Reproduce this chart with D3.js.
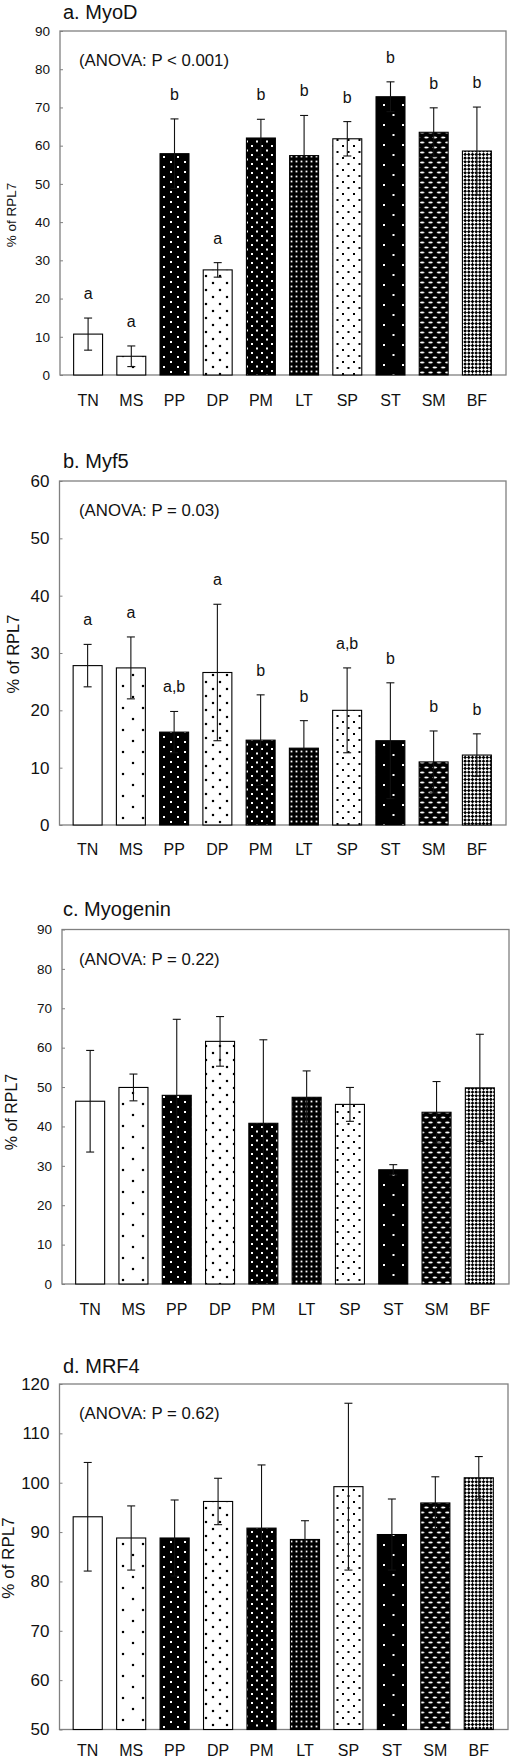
<!DOCTYPE html>
<html><head><meta charset="utf-8">
<script src="https://cdn.jsdelivr.net/npm/d3@7"></script>
<style>
body{margin:0;background:#fff}
svg{display:block}
text{font-family:"Liberation Sans",Arial,Helvetica,sans-serif;fill:#111}
</style>
</head><body>
<svg id="chart" width="510" height="1761"></svg>
<script>
// ---------------- data ----------------
const categories = ["TN","MS","PP","DP","PM","LT","SP","ST","SM","BF"];
const panelTitles = ["a. MyoD","b. Myf5","c. Myogenin","d. MRF4"];
const anovaLabels = ["(ANOVA: P < 0.001)","(ANOVA: P = 0.03)","(ANOVA: P = 0.22)","(ANOVA: P = 0.62)"];
const yAxisLabel = "% of RPL7";

const myodMeans   = [10.7, 4.9, 57.9, 27.5, 62.0, 57.4, 61.8, 72.8, 63.5, 58.6];
const myodErrors  = [ 4.2, 2.7,  9.1,  1.9,  4.9, 10.5,  4.5,  3.9,  6.4, 11.5];
const myodLetters = ["a","a","b","a","b","b","b","b","b","b"];

const myf5Means   = [27.8, 27.4, 16.2, 26.6, 14.8, 13.4, 20.0, 14.7, 11.0, 12.2];
const myf5Errors  = [ 3.7,  5.4,  3.6, 11.9,  7.9,  4.8,  7.4, 10.1,  5.4,  3.7];
const myf5Letters = ["a","a","a,b","a","b","b","a,b","b","b","b"];

const myogeninMeans  = [46.4, 49.9, 47.9, 61.6, 40.8, 47.4, 45.6, 29.0, 43.6, 49.8];
const myogeninErrors = [12.9,  3.4, 19.3,  6.3, 21.2,  6.7,  4.3,  1.3,  7.8, 13.6];

const mrf4Means  = [93.1, 88.8, 88.8, 96.2, 90.8, 88.5, 99.2, 89.5, 95.9, 101.0];
const mrf4Errors = [11.0,  6.5,  7.7,  4.7, 12.8,  3.8, 16.9,  7.2,  5.3,   4.3];

const myodTicks     = [0,10,20,30,40,50,60,70,80,90];
const myf5Ticks     = [0,10,20,30,40,50,60];
const myogeninTicks = [0,10,20,30,40,50,60,70,80,90];
const mrf4Ticks     = [50,60,70,80,90,100,110,120];

// ---------------- layout / style ----------------
const svg = d3.select("#chart");
const defs = svg.append("defs");

function dotPattern(id, bg, fg, w, h, pts, r){
  const p = defs.append("pattern").attr("id", id).attr("patternUnits","userSpaceOnUse")
    .attr("width", w).attr("height", h);
  p.append("rect").attr("width", w).attr("height", h).attr("fill", bg);
  pts.forEach(([cx,cy]) => p.append("rect").attr("x", cx - r).attr("y", cy - r)
    .attr("width", 2*r).attr("height", 2*r).attr("fill", fg));
  return p;
}
dotPattern("pMS","#fff","#000",20,22,[[3,4],[13,15]],1.1);
dotPattern("pDP","#fff","#000",14,14,[[3,3],[10,10]],1.1);
dotPattern("pSP","#fff","#000",11,12,[[2,2],[7.5,8]],1.0);
dotPattern("pPP","#000","#fff",14,10,[[3,2],[10,7]],1.0);
dotPattern("pPM","#000","#fff",10,9,[[2,2],[7,6.5]],1.0);
dotPattern("pLT","#000","#fff",5,5,[[1.5,1.5]],0.9);
dotPattern("pST","#000","#fff",19,20,[[4,5],[13.5,15]],1.0);
{
  const p = defs.append("pattern").attr("id","pSM").attr("patternUnits","userSpaceOnUse")
    .attr("width",8.4).attr("height",10);
  p.append("rect").attr("width",8.4).attr("height",10).attr("fill","#000");
  [[2.2,2.5],[6.4,7.5]].forEach(([cx,cy]) => p.append("ellipse").attr("cx",cx).attr("cy",cy)
    .attr("rx",2.2).attr("ry",0.95).attr("fill","#fff"));
  p.append("ellipse").attr("cx",-2).attr("cy",7.5).attr("rx",2.2).attr("ry",0.95).attr("fill","#fff");
}
{
  const c = 2.6;
  const p = defs.append("pattern").attr("id","pBF").attr("patternUnits","userSpaceOnUse")
    .attr("width",2*c).attr("height",2*c).attr("patternTransform","rotate(45)");
  p.append("rect").attr("width",2*c).attr("height",2*c).attr("fill","#000");
  p.append("rect").attr("width",c).attr("height",c).attr("fill","#fff");
  p.append("rect").attr("x",c).attr("y",c).attr("width",c).attr("height",c).attr("fill","#fff");
}
const patternFor = {TN:"#fff",MS:"url(#pMS)",PP:"url(#pPP)",DP:"url(#pDP)",PM:"url(#pPM)",
  LT:"url(#pLT)",SP:"url(#pSP)",ST:"url(#pST)",SM:"url(#pSM)",BF:"url(#pBF)"};

const panels = [
  {means:myodMeans, errors:myodErrors, letters:myodLetters, ticks:myodTicks,
   left:60, right:506, top:31, bottom:375, tickFont:13.5, ylFont:13.5, ylX:11, ylY:215, titleY:18.5, catY:406},
  {means:myf5Means, errors:myf5Errors, letters:myf5Letters, ticks:myf5Ticks,
   left:59.5, right:506, top:481, bottom:825, tickFont:17, ylFont:16.5, ylX:13, ylY:654, titleY:468, catY:855},
  {means:myogeninMeans, errors:myogeninErrors, letters:null, ticks:myogeninTicks,
   left:62, right:509, top:929.5, bottom:1284, tickFont:13.5, ylFont:16, ylX:11.5, ylY:1112, titleY:916, catY:1315},
  {means:mrf4Means, errors:mrf4Errors, letters:null, ticks:mrf4Ticks,
   left:59.5, right:508, top:1384, bottom:1729.5, tickFont:17, ylFont:17, ylX:8.5, ylY:1558, titleY:1373, catY:1756}
];

panels.forEach((P, i) => {
  const g = svg.append("g");
  const lo = P.ticks[0], hi = P.ticks[P.ticks.length-1];
  const y = d3.scaleLinear().domain([lo, hi]).range([P.bottom, P.top]);
  const x = d3.scaleBand().domain(categories).range([P.left + 6.5, P.right - 7.5])
    .paddingInner(0.33).paddingOuter(0.165);
  const rows = categories.map((c, k) => ({c, m:P.means[k], e:P.errors[k], l:P.letters ? P.letters[k] : null}));

  // frame
  g.append("rect").attr("x",P.left).attr("y",P.top).attr("width",P.right-P.left).attr("height",P.bottom-P.top)
    .attr("fill","none").attr("stroke","#808080").attr("stroke-width",1.3);

  // axis
  const ax = g.append("g").attr("transform",`translate(${P.left},0)`)
    .call(d3.axisLeft(y).tickValues(P.ticks).tickSizeInner(-3).tickSizeOuter(0).tickPadding(10));
  ax.select(".domain").remove();
  ax.selectAll(".tick line").attr("stroke","#808080");
  ax.selectAll(".tick text").attr("font-size",P.tickFont).attr("font-family",'"Liberation Sans",Arial,sans-serif').attr("fill","#111");
  ax.attr("font-size",null).attr("font-family",null);

  // bars
  g.selectAll(".bar").data(rows).join("rect")
    .attr("x", d => x(d.c)).attr("width", x.bandwidth())
    .attr("y", d => y(d.m)).attr("height", d => y(lo) - y(d.m))
    .attr("fill", d => patternFor[d.c]).attr("stroke","#000").attr("stroke-width",1.1);

  // error bars
  const eb = g.selectAll(".eb").data(rows).join("g").attr("stroke","#111").attr("stroke-width",1.1);
  eb.append("line").attr("x1", d => x(d.c)+x.bandwidth()/2).attr("x2", d => x(d.c)+x.bandwidth()/2)
    .attr("y1", d => y(d.m - d.e)).attr("y2", d => y(d.m + d.e));
  eb.append("line").attr("x1", d => x(d.c)+x.bandwidth()/2-4).attr("x2", d => x(d.c)+x.bandwidth()/2+4)
    .attr("y1", d => y(d.m + d.e)).attr("y2", d => y(d.m + d.e));
  eb.append("line").attr("x1", d => x(d.c)+x.bandwidth()/2-4).attr("x2", d => x(d.c)+x.bandwidth()/2+4)
    .attr("y1", d => y(d.m - d.e)).attr("y2", d => y(d.m - d.e));

  // significance letters
  if (P.letters) {
    g.selectAll(".lt").data(rows).join("text")
      .attr("x", d => x(d.c)+x.bandwidth()/2).attr("y", d => y(d.m + d.e) - 19)
      .attr("text-anchor","middle").attr("font-size",16).text(d => d.l);
  }

  // category labels
  g.selectAll(".cl").data(categories).join("text")
    .attr("x", d => x(d)+x.bandwidth()/2).attr("y", P.catY)
    .attr("text-anchor","middle").attr("font-size",16).text(d => d);

  // titles
  g.append("text").attr("x",63).attr("y",P.titleY).attr("font-size",20).text(panelTitles[i]);
  g.append("text").attr("x",79).attr("y",P.top+35).attr("font-size",16.8).text(anovaLabels[i]);

  // y label
  g.append("text").attr("transform",`translate(${P.ylX},${P.ylY}) rotate(-90)`)
    .attr("text-anchor","middle").attr("dy","0.35em").attr("font-size",P.ylFont).text(yAxisLabel);
});
</script>
</body></html>
